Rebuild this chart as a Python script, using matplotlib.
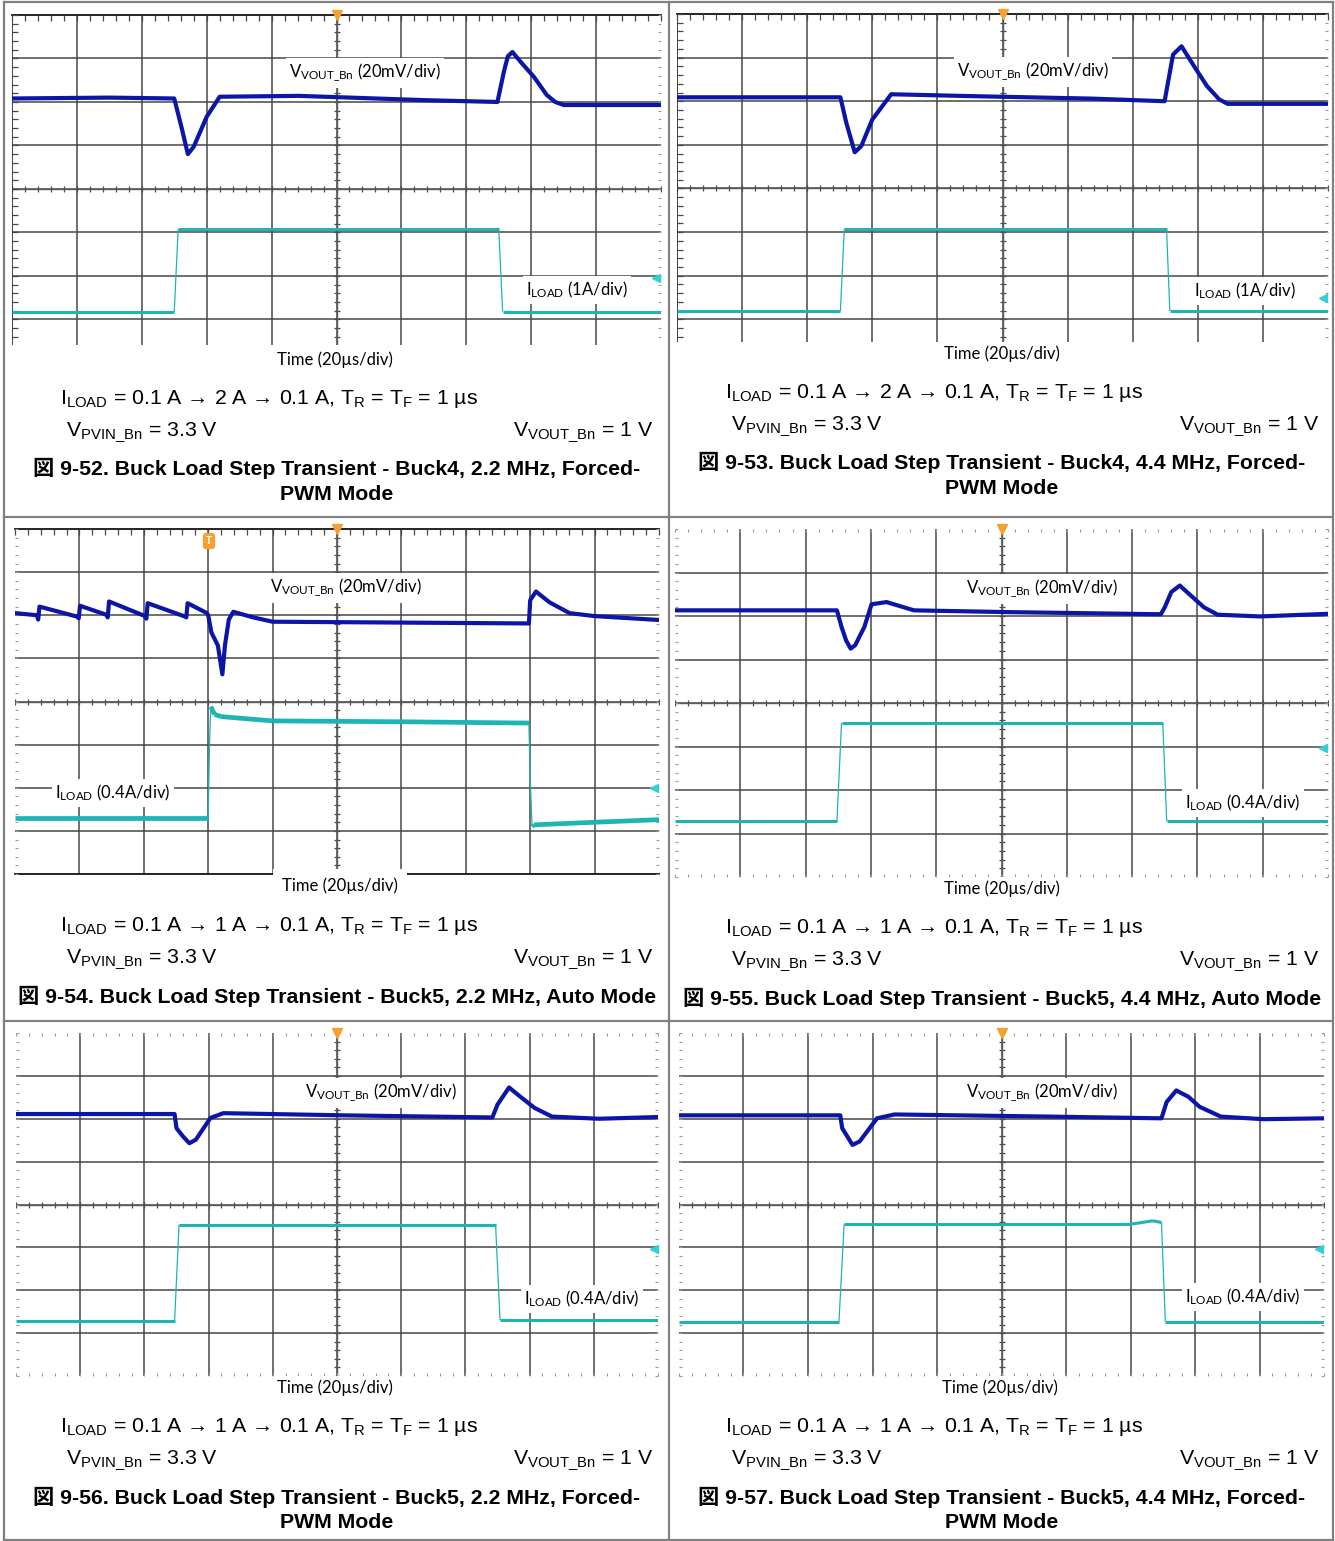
import matplotlib
matplotlib.use("Agg")
import matplotlib.pyplot as plt
from matplotlib.lines import Line2D
import numpy as np

# ---------------- data (divisions, read from the scope shots) ----------------
t52_v = [0, 1.5, 2.5, 2.61, 2.71, 2.8, 3.0, 3.2, 4.42, 6.39, 7.48, 7.58, 7.64, 7.71, 7.85, 8.04, 8.24, 8.37, 8.5, 10]
v52 = [2.08, 2.10, 2.08, 1.43, 0.80, 0.97, 1.66, 2.12, 2.14, 2.04, 2.0, 2.7, 3.05, 3.15, 2.9, 2.58, 2.16, 2.0, 1.93, 1.93]
t52_i = [0, 2.5, 2.56, 7.5, 7.56, 10]
i52 = [-2.82, -2.82, -0.93, -0.93, -2.82, -2.82]

t53_v = [0, 2.51, 2.6, 2.73, 2.83, 3.0, 3.29, 4.43, 6.38, 7.49, 7.62, 7.75, 7.94, 8.14, 8.33, 8.46, 10]
v53 = [2.09, 2.09, 1.51, 0.83, 0.97, 1.58, 2.16, 2.12, 2.06, 2.0, 3.07, 3.26, 2.81, 2.35, 2.04, 1.94, 1.94]
t53_i = [0, 2.51, 2.57, 7.52, 7.57, 10]
i53 = [-2.81, -2.81, -0.93, -0.93, -2.81, -2.81]

t54_v = [0, 0.34, 0.36, 0.38, 0.96, 0.99, 1.01, 1.42, 1.44, 1.46, 2.02, 2.04, 2.06, 2.64, 2.66, 2.68,
         2.98, 3.0, 3.05, 3.15, 3.22, 3.26, 3.32, 3.39, 3.7, 4.0, 6.0, 7.98, 8.0, 8.09, 8.3, 8.61, 9.0, 10]
v54 = [2.05, 2.0, 1.9, 2.2, 1.97, 1.93, 2.22, 2.01, 1.95, 2.32, 1.98, 1.92, 2.28, 1.97, 1.95, 2.28,
       2.05, 2.0, 1.6, 1.3, 0.63, 1.3, 1.9, 2.08, 1.95, 1.85, 1.83, 1.81, 2.35, 2.55, 2.3, 2.05, 1.98, 1.89]
t54_i = [0, 3.0, 3.02, 3.04, 3.1, 3.2, 4.0, 6.0, 7.98, 8.0, 8.03, 8.06, 9.0, 10]
i54 = [-2.70, -2.70, -1.0, -0.12, -0.3, -0.35, -0.45, -0.47, -0.5, -1.8, -2.9, -2.86, -2.8, -2.74]

t55_v = [0, 2.48, 2.55, 2.62, 2.69, 2.76, 2.9, 3.01, 3.24, 3.66, 5.08, 7.44, 7.5, 7.6, 7.73, 7.9, 8.1, 8.31, 8.96, 10]
v55 = [2.13, 2.13, 1.75, 1.44, 1.25, 1.33, 1.75, 2.27, 2.32, 2.13, 2.09, 2.04, 2.2, 2.55, 2.70, 2.47, 2.2, 2.03, 1.99, 2.05]
t55_i = [0, 2.48, 2.55, 7.47, 7.53, 10]
i55 = [-2.72, -2.72, -0.46, -0.46, -2.72, -2.72]

t56_v = [0, 2.47, 2.5, 2.6, 2.7, 2.8, 3.03, 3.23, 5.09, 7.42, 7.5, 7.68, 7.85, 8.08, 8.35, 9.08, 10]
v56 = [2.11, 2.11, 1.78, 1.59, 1.43, 1.51, 2.02, 2.13, 2.08, 2.03, 2.33, 2.73, 2.52, 2.25, 2.05, 2.0, 2.04]
t56_i = [0, 2.47, 2.54, 7.47, 7.54, 10]
i56 = [-2.71, -2.71, -0.47, -0.47, -2.70, -2.70]

t57_v = [0, 2.50, 2.53, 2.69, 2.8, 3.07, 3.34, 5.77, 7.48, 7.56, 7.71, 7.9, 8.07, 8.40, 9.06, 10]
v57 = [2.08, 2.08, 1.78, 1.39, 1.47, 2.01, 2.10, 2.05, 2.01, 2.39, 2.66, 2.51, 2.28, 2.05, 1.99, 2.01]
t57_i = [0, 2.48, 2.56, 7.0, 7.35, 7.48, 7.54, 10]
i57 = [-2.73, -2.73, -0.46, -0.46, -0.38, -0.42, -2.73, -2.73]

ref_levels = [-2.04, -2.51, -2.0, -1.04, -1.04, -1.04]   # cyan channel-reference arrows
i_scales = ["1A/div", "1A/div", "0.4A/div", "0.4A/div", "0.4A/div", "0.4A/div"]
i_steps = ["2 A", "2 A", "1 A", "1 A", "1 A", "1 A"]
fig_nums = ["9-52", "9-53", "9-54", "9-55", "9-56", "9-57"]
buck_names = ["Buck4", "Buck4", "Buck5", "Buck5", "Buck5", "Buck5"]
freqs = ["2.2 MHz", "4.4 MHz", "2.2 MHz", "4.4 MHz", "2.2 MHz", "4.4 MHz"]
modes = ["Forced-PWM Mode", "Forced-PWM Mode", "Auto Mode", "Auto Mode", "Forced-PWM Mode", "Forced-PWM Mode"]

V_SERIES = [(t52_v, v52), (t53_v, v53), (t54_v, v54), (t55_v, v55), (t56_v, v56), (t57_v, v57)]
I_SERIES = [(t52_i, i52), (t53_i, i53), (t54_i, i54), (t55_i, i55), (t56_i, i56), (t57_i, i57)]

# ---------------- layout ----------------
W, H = 1335, 1541
fig = plt.figure(figsize=(W / 100, H / 100), dpi=100)
fig.patch.set_facecolor("white")

SCOPE_FONT = ["Lato", "DejaVu Sans"]
CAP_FONT = ["Liberation Sans", "DejaVu Sans"]
TITLE_FONT = ["Liberation Sans", "Noto Sans CJK JP", "DejaVu Sans"]
VCOL = "#0c16a6"
ICOL = "#1cb4b4"
GRID = "#484848"
ORANGE = "#f5a030"


def fx(x):
    return x / W


def fy(y):
    return 1 - y / H


def ftext(x, y, s, **kw):
    return fig.text(fx(x), fy(y), s, **kw)


# cell frame lines
for (x0, y0, x1, y1) in [(4, 2, 4, 1541), (669, 2, 669, 1541), (1333, 2, 1333, 1541),
                         (4, 2, 1333, 2), (4, 517, 1333, 517), (4, 1021, 1333, 1021), (4, 1540, 1333, 1540)]:
    fig.add_artist(Line2D([fx(x0), fx(x1)], [fy(y0), fy(y1)], color="#808080", lw=1.6))

# panel geometry: left, top, right, bottom (px), lowest visible division, solid borders (top, left, bottom)
panels = [
    dict(box=(12, 15, 661, 345), ylo=-3.59, solid=(True, True, False)),
    dict(box=(677, 14, 1328, 342), ylo=-3.52, solid=(True, True, False)),
    dict(box=(15, 529, 659, 874), ylo=-4.0, solid=(True, False, True)),
    dict(box=(675, 529, 1328, 877), ylo=-4.0, solid=(False, False, False)),
    dict(box=(16, 1033, 658, 1376), ylo=-4.0, solid=(False, False, False)),
    dict(box=(679, 1033, 1324, 1376), ylo=-4.0, solid=(False, False, False)),
]

minor = np.arange(0, 10.001, 0.2)


def draw_scope(k):
    p = panels[k]
    l, t, r, b = p["box"]
    ylo = p["ylo"]
    ax = fig.add_axes([fx(l), fy(b), (r - l) / W, (b - t) / H])
    ax.set_xlim(0, 10)
    ax.set_ylim(ylo, 4)
    ax.axis("off")
    for x in range(1, 10):
        ax.axvline(x, color=GRID, lw=1.1, zorder=1)
    for y in range(3, -5, -1):
        if y > ylo + 0.01:
            ax.axhline(y, color=GRID, lw=1.1, zorder=1)
    yminor = np.arange(4, ylo - 0.001, -0.2)
    # centre ticks
    ax.plot(minor, np.zeros_like(minor), ls="none", marker="|", ms=5, mew=0.9, color=GRID, zorder=1)
    ax.plot(np.full_like(yminor, 5.0), yminor, ls="none", marker="_", ms=5, mew=0.9, color=GRID, zorder=1)
    st, sl, sb = p["solid"]
    if st:
        ax.axhline(4, color="#111111", lw=1.3, zorder=1, clip_on=False)
        ax.plot(minor, np.full_like(minor, 4), ls="none", marker=3, ms=4, mew=0.9, color=GRID, clip_on=False)
    else:
        ax.plot(minor, np.full_like(minor, 4), ls="none", marker=3, ms=2.5, mew=0.8, color="#9a9a9a", clip_on=False)
    if sl:
        ax.axvline(0, color="#222222", lw=1.2, zorder=1)
        ax.plot(np.zeros_like(yminor), yminor, ls="none", marker=1, ms=4, mew=0.9, color=GRID)
    else:
        ax.plot(np.zeros_like(yminor), yminor, ls="none", marker=1, ms=2.5, mew=0.8, color="#9a9a9a", clip_on=False)
    ax.plot(np.full_like(yminor, 10), yminor, ls="none", marker=0, ms=2.5, mew=0.8, color="#9a9a9a", clip_on=False)
    if sb:
        ax.axhline(ylo, color="#111111", lw=1.3, zorder=1, clip_on=False)
    elif ylo <= -3.99:
        ax.plot(minor, np.full_like(minor, ylo), ls="none", marker=2, ms=2.5, mew=0.8, color="#9a9a9a", clip_on=False)
    ax.axvline(5, color="#5a5a5a", lw=1.0, zorder=1)
    ax.axhline(0, color="#5a5a5a", lw=1.0, zorder=1)

    # traces
    tv, vv = V_SERIES[k]
    ax.plot(tv, vv, color=VCOL, lw=3.0, solid_joinstyle="round", zorder=3)
    ti, iv = I_SERIES[k]
    ilw = 3.4 if k == 2 else 2.2
    for j in range(len(ti) - 1):
        steep = abs(iv[j + 1] - iv[j]) / max(ti[j + 1] - ti[j], 1e-6) > 8
        ax.plot(ti[j:j + 2], iv[j:j + 2], color=ICOL, lw=0.9 if steep else ilw,
                solid_capstyle="butt", zorder=3)
    # markers
    ax.plot([5], [4], marker="v", ms=7, color=ORANGE, clip_on=False, zorder=4)
    ax.plot([9.93], [ref_levels[k]], marker="<", ms=6, color="#30d0d8", clip_on=False, zorder=4)
    return ax


for k in range(6):
    draw_scope(k)

# trigger flag (panel 9-54)
ftext(209, 541, "T", ha="center", va="center", color="white", fontsize=7, fontweight="bold",
      family=CAP_FONT, bbox=dict(boxstyle="round,pad=0.25", fc=ORANGE, ec=ORANGE), zorder=6)

box = dict(boxstyle="square,pad=0.2", fc="white", ec="none")
tall_box = dict(boxstyle="square,pad=0.55", fc="white", ec="none")

v_lbl = [(365, 73), (1033, 72), (346, 588), (1042, 589), (381, 1093), (1042, 1093)]
i_lbl = [(577, 290), (1245, 291), (113, 793), (1243, 803), (582, 1299), (1243, 1297)]
time_lbl = [(335, 360), (1002, 354), (340, 886), (1002, 889), (335, 1388), (1000, 1388)]
cap_x = [60, 725, 60, 725, 60, 725]
cap_y = [404, 398, 931, 933, 1432, 1432]
right_x = [654, 1320, 654, 1320, 654, 1320]
title_x = [337, 1002, 337, 1002, 337, 1002]
title_y = [468, 462, 996, 998, 1497, 1497]

for k in range(6):
    ftext(*v_lbl[k], r"$\mathregular{V_{VOUT\_Bn}}$ (20mV/div)", ha="center", va="center",
          fontsize=12, family=SCOPE_FONT, bbox=box, zorder=5)
    ftext(*i_lbl[k], r"$\mathregular{I_{LOAD}}$ (" + i_scales[k] + ")", ha="center", va="center",
          fontsize=12, family=SCOPE_FONT, bbox=box, zorder=5)
    ftext(*time_lbl[k], "Time (20µs/div)", ha="center", va="center",
          fontsize=12, family=SCOPE_FONT, bbox=tall_box if k == 2 else box, zorder=5)
    ftext(cap_x[k], cap_y[k],
          r"$\mathregular{I_{LOAD}}$ = 0.1 A → " + i_steps[k] + r" → 0.1 A, $\mathregular{T_R}$ = $\mathregular{T_F}$ = 1 µs",
          ha="left", va="baseline", fontsize=15.3, family=CAP_FONT)
    ftext(cap_x[k] + 6, cap_y[k] + 32, r"$\mathregular{V_{PVIN\_Bn}}$ = 3.3 V",
          ha="left", va="baseline", fontsize=15.3, family=CAP_FONT)
    ftext(right_x[k], cap_y[k] + 32, r"$\mathregular{V_{VOUT\_Bn}}$ = 1 V",
          ha="right", va="baseline", fontsize=15.3, family=CAP_FONT)
    head = "図 " + fig_nums[k] + ". Buck Load Step Transient - " + buck_names[k] + ", " + freqs[k] + ", "
    if modes[k].startswith("Forced"):
        ftext(title_x[k], title_y[k], head + "Forced-", ha="center", va="center",
              fontsize=15.3, fontweight="bold", family=TITLE_FONT)
        ftext(title_x[k], title_y[k] + 26, "PWM Mode", ha="center", va="center",
              fontsize=15.3, fontweight="bold", family=TITLE_FONT)
    else:
        ftext(title_x[k], title_y[k], head + modes[k], ha="center", va="center",
              fontsize=15.3, fontweight="bold", family=TITLE_FONT)

fig.savefig("out.png", dpi=100, facecolor="white")
